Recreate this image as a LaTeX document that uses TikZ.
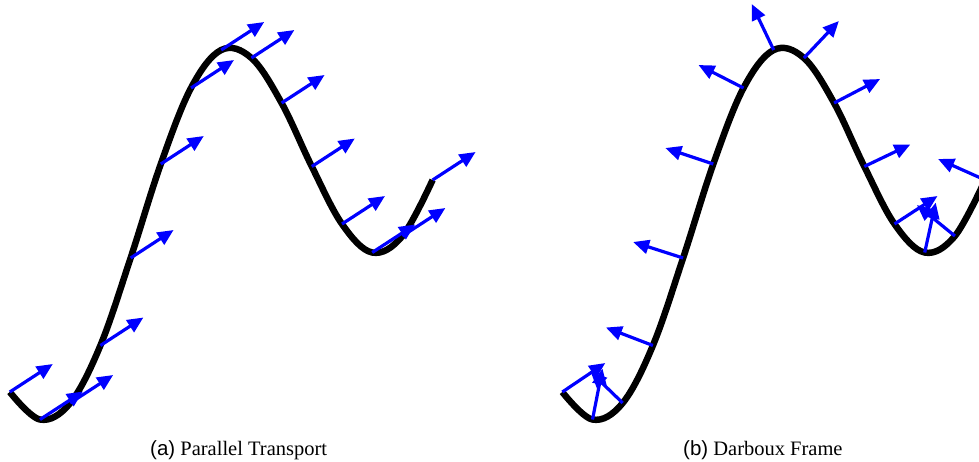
\documentclass[tikz,border=0pt]{standalone}
\usepackage{fontspec}
\setmainfont{Liberation Serif}
\newfontfamily\capsans{Liberation Sans}
\usetikzlibrary{arrows.meta}
\definecolor{vblue}{RGB}{0,0,255}
\begin{document}
\begin{tikzpicture}[x=1pt,y=-1pt,
  curve/.style={line width=6.5pt,draw=black},
  vec/.style={line width=3.2pt,draw=vblue,-{Triangle[length=16pt,width=14pt]}},
  caption/.style={font=\fontsize{20.5}{24}\selectfont,anchor=base west,inner sep=0pt}]
\useasboundingbox (0,0) rectangle (979,461);
\clip (0,0) rectangle (979,461);
\foreach \x/\y [count=\i from 0] in {9.8/392,40/419.5,70.2/403,100.4/345.5,130.6/258,160.8/164,191/88,221.2/50,251.4/58,281.6/103,311.8/166.5,342/224,372.2/252.5,402.4/236,432.6/180}{
  \coordinate (L\i) at (\x,\y);
  \coordinate (R\i) at ({\x+552.5},\y);
}
% (a) parallel transport
\draw[curve] plot[smooth,tension=0.6] coordinates {(L0) (L1) (L2) (L3) (L4) (L5) (L6) (L7) (L8) (L9) (L10) (L11) (L12) (L13) (L14)};
\foreach \i in {0,...,14}{\draw[vec] (L\i) -- ++(43,-28);}
% (b) Darboux frame
\draw[curve] plot[smooth,tension=0.6] coordinates {(R0) (R1) (R2) (R3) (R4) (R5) (R6) (R7) (R8) (R9) (R10) (R11) (R12) (R13) (R14)};
\foreach \i/\dx/\dy in {0/43/-29,1/10/-51,2/-32/-31,3/-47/-18,4/-50/-16,5/-48/-16,6/-45/-23,7/-22/-46,8/35/-37,9/46/-24,10/46/-22,11/43/-28,12/11/-50,13/-38/-31,14/-47/-21}{\draw[vec] (R\i) -- ++(\dx,\dy);}
\node[caption] (capa) at (150,455) {{\capsans (a)} Parallel Transport};
\node[caption] (capb) at (683,455) {{\capsans (b)} Darboux Frame};
\end{tikzpicture}
\end{document}
